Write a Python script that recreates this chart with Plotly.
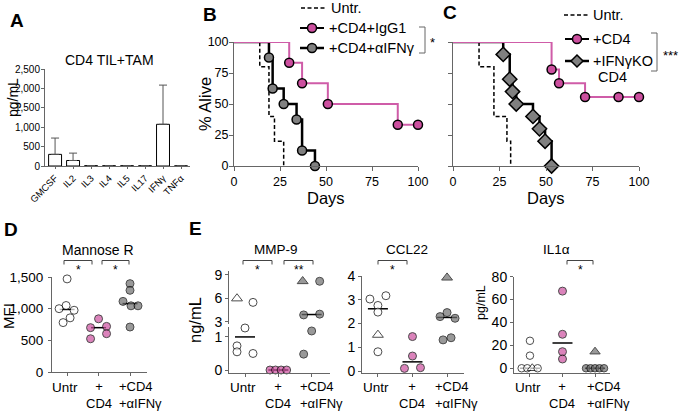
import plotly.graph_objects as go
import numpy as np

W, H = 680, 412
FONT = "Liberation Sans, Arial, Helvetica, sans-serif"
PINK = "#cc4f9f"
PINK_LINE = "#cf5ca8"
GRAY = "#808080"
DGRAY = "#6e6e6e"
AX = "#666666"

# ---------------- data ----------------
# Panel A: cytokines, CD4 TIL + TAM (pg/mL)
a_cats = ["GMCSF", "IL2", "IL3", "IL4", "IL5", "IL17", "IFNγ", "TNFα"]
a_mean = [300, 142, 8, 6, 6, 6, 1075, 3]
a_err = [420, 190, 0, 0, 0, 0, 1010, 0]

# Panel B: survival (days, % alive)
b_untr_days = [0, 14, 19, 22, 27]
b_untr_pct = [100, 80, 40, 20, 0]
b_igg_days = [0, 30, 37, 51, 89, 100]
b_igg_pct = [100, 83.3, 66.7, 50, 33.3, 33.3]
b_aifn_days = [0, 19, 21, 27, 34, 37, 44]
b_aifn_pct = [100, 87.5, 62.5, 50, 37.5, 12.5, 0]

# Panel C: survival
c_untr_days = [0, 14, 22, 29, 31]
c_untr_pct = [100, 80, 40, 20, 0]
c_cd4_days = [0, 53, 57, 71, 89, 100]
c_cd4_pct = [100, 77.8, 66.7, 55.6, 55.6, 55.6]
c_ko_days = [0, 27, 30.5, 32, 34, 43, 46.5, 49.5, 53]
c_ko_pct = [100, 90, 70, 60, 50, 40, 30, 20, 0]

# Panel D: Mannose R MFI
d_untr = [1470, 1050, 1000, 975, 855, 780]
d_cd4 = [840, 700, 720, 605, 525]
d_aifn = [1395, 1290, 1115, 1045, 1045, 710]

# Panel E: MMP-9 (ng/mL)
mmp_untr = [6.0, 5.5, 1.27, 0.73, 0.55, 0.5]
mmp_cd4 = [0, 0, 0, 0]
mmp_aifn = [8.2, 8.2, 3.9, 4.0, 1.18, 0.48]
# CCL22 (ng/mL)
ccl_untr = [3.03, 3.17, 2.76, 2.48, 1.52, 0.81]
ccl_cd4 = [1.45, 0.63, 0.11, 0.14]
ccl_aifn = [3.93, 2.29, 2.46, 2.22, 1.31, 1.40]
# IL1a (pg/mL)
il1_untr = [24, 11, 0, 0, 0, 0]
il1_cd4 = [67.4, 29.7, 14.5, 8.1]
il1_aifn = [14.5, 0, 0, 0, 0, 0]

# which mice are shown as triangles
mmp_untr_tri = [0]
mmp_aifn_tri = [0]
ccl_untr_tri = [4]
ccl_aifn_tri = [0]
il1_untr_tri = [4]
il1_aifn_tri = [0]

# ---------------- layout helpers ----------------
def px(x):
    return x / W

def py(y):
    return 1 - y / H

def xdom(a, b):
    return [a / W, b / W]

def ydom(top, bot):
    return [1 - bot / H, 1 - top / H]

# beeswarm-like horizontal jitter in pixels (style, not data)
JIT = {
    "d_untr": [0, -1, -8, 7, 3, -4],
    "d_cd4": [0, -8, 8, 8, -8],
    "d_aifn": [0, 0, -7, 1, 8, 0],
    "mmp_untr": [-8, 8, 0, -8, -8, 8],
    "mmp_cd4": [-8.3, -2.8, 2.8, 8.3],
    "mmp_aifn": [-9, 8, -8, 8, 0, -8],
    "ccl_untr": [-8, 8, 0, 0, 0, 0],
    "ccl_cd4": [0, 0, -8, 8],
    "ccl_aifn": [0, -7, 0, 8, -4, 4],
    "il1_untr": [0, 0, -8.3, -2.7, 2.3, 7.7],
    "il1_cd4": [0, 0, 0, 0],
    "il1_aifn": [0, -9, -4.5, 0, 4.5, 9],
}

GEO = {
    "D": dict(x0=52, x1=147, r=(-0.48, 2.54)),
    "MMP": dict(x0=229, x1=330, r=(-0.48, 2.55)),
    "CCL": dict(x0=362, x1=464, r=(-0.46, 2.49)),
    "IL1": dict(x0=514, x1=610, r=(-0.49, 2.46)),
}

def spacing(g):
    return (g["x1"] - g["x0"]) / (g["r"][1] - g["r"][0])

fig = go.Figure()

# ---------------- Panel A ----------------
fig.add_trace(go.Bar(
    x=a_cats, y=a_mean, width=0.72,
    marker=dict(color="white", line=dict(color="black", width=1)),
    error_y=dict(type="data", symmetric=False, array=a_err,
                 arrayminus=[0] * len(a_err), color="#555", thickness=1, width=4),
    xaxis="x", yaxis="y", showlegend=False, hoverinfo="skip"))

# ---------------- Panels B, C ----------------
def surv_line(days, pct, xa, ya, color, width, dash=None):
    fig.add_trace(go.Scatter(
        x=days, y=pct, mode="lines",
        line=dict(shape="hv", color=color, width=width, dash=dash),
        xaxis=xa, yaxis=ya, cliponaxis=False, showlegend=False, hoverinfo="skip"))

def surv_marks(days, pct, xa, ya, fill, symbol="circle", size=9):
    fig.add_trace(go.Scatter(
        x=days[1:], y=pct[1:], mode="markers",
        marker=dict(symbol=symbol, size=size, color=fill, line=dict(color="black", width=1.5)),
        xaxis=xa, yaxis=ya, cliponaxis=False, showlegend=False, hoverinfo="skip"))

DASH = "4px,2.5px"
surv_line(b_untr_days, b_untr_pct, "x2", "y2", "black", 1.5, DASH)
surv_line(b_aifn_days, b_aifn_pct, "x2", "y2", "black", 2.5)
surv_line(b_igg_days, b_igg_pct, "x2", "y2", PINK_LINE, 2)
surv_marks(b_aifn_days, b_aifn_pct, "x2", "y2", GRAY)
surv_marks(b_igg_days, b_igg_pct, "x2", "y2", PINK)

surv_line(c_untr_days, c_untr_pct, "x3", "y3", "black", 1.5, DASH)
surv_line(c_ko_days, c_ko_pct, "x3", "y3", "black", 2.5)
surv_line(c_cd4_days, c_cd4_pct, "x3", "y3", PINK_LINE, 2)
surv_marks(c_ko_days, c_ko_pct, "x3", "y3", GRAY, symbol="diamond", size=11)
surv_marks(c_cd4_days, c_cd4_pct, "x3", "y3", PINK)

# ---------------- Panels D, E (dot plots) ----------------
def median_line(vals, cat, g, xa, ya, half_px):
    sp = spacing(g)
    m = float(np.median(vals))
    fig.add_trace(go.Scatter(
        x=[cat - half_px / sp, cat + half_px / sp], y=[m, m], mode="lines",
        line=dict(color="black", width=1.5), xaxis=xa, yaxis=ya,
        cliponaxis=False, showlegend=False, hoverinfo="skip"))
    return m

def dots(vals, key, cat, g, fill, tri, xa, ya, keep=None, size=8):
    sp = spacing(g)
    offs = JIT[key]
    idx = [i for i in range(len(vals)) if keep is None or keep(vals[i])]
    if not idx:
        return
    xs = [cat + offs[i] / sp for i in idx]
    ys = [vals[i] for i in idx]
    syms = ["triangle-up" if i in tri else "circle" for i in idx]
    sizes = [size + 1.5 if i in tri else size for i in idx]
    fig.add_trace(go.Scatter(
        x=xs, y=ys, mode="markers",
        marker=dict(symbol=syms, size=sizes, color=fill, line=dict(color="black", width=1)),
        xaxis=xa, yaxis=ya, cliponaxis=False, showlegend=False, hoverinfo="skip"))

# D
gD = GEO["D"]
for cat, vals in enumerate([d_untr, d_cd4, d_aifn]):
    median_line(vals, cat, gD, "x4", "y4", 7.5)
dots(d_untr, "d_untr", 0, gD, "white", [], "x4", "y4")
dots(d_cd4, "d_cd4", 1, gD, PINK, [], "x4", "y4")
dots(d_aifn, "d_aifn", 2, gD, DGRAY, [], "x4", "y4")

# MMP-9 (broken axis: lower y5, upper y9)
gM = GEO["MMP"]
BREAK = 2.0
for cat, vals in enumerate([mmp_untr, mmp_cd4, mmp_aifn]):
    m = float(np.median(vals))
    median_line(vals, cat, gM, "x5", "y9" if m > BREAK else "y5", 10)
for vals, key, cat, fill, tri in [
        (mmp_untr, "mmp_untr", 0, "white", mmp_untr_tri),
        (mmp_cd4, "mmp_cd4", 1, PINK, []),
        (mmp_aifn, "mmp_aifn", 2, DGRAY, mmp_aifn_tri)]:
    dots(vals, key, cat, gM, fill, tri, "x5", "y5", keep=lambda v: v <= BREAK)
    dots(vals, key, cat, gM, fill, tri, "x5", "y9", keep=lambda v: v > BREAK)

# CCL22
gC = GEO["CCL"]
for cat, vals in enumerate([ccl_untr, ccl_cd4, ccl_aifn]):
    median_line(vals, cat, gC, "x6", "y6", 10)
dots(ccl_untr, "ccl_untr", 0, gC, "white", ccl_untr_tri, "x6", "y6")
dots(ccl_cd4, "ccl_cd4", 1, gC, PINK, [], "x6", "y6")
dots(ccl_aifn, "ccl_aifn", 2, gC, DGRAY, ccl_aifn_tri, "x6", "y6")

# IL1a
gI = GEO["IL1"]
for cat, vals in enumerate([il1_untr, il1_cd4, il1_aifn]):
    median_line(vals, cat, gI, "x7", "y7", 10)
dots(il1_untr, "il1_untr", 0, gI, "white", il1_untr_tri, "x7", "y7", size=7.5)
dots(il1_cd4, "il1_cd4", 1, gI, PINK, [], "x7", "y7", size=8)
dots(il1_aifn, "il1_aifn", 2, gI, DGRAY, il1_aifn_tri, "x7", "y7", size=7.5)

# ---------------- axes ----------------
def axis(**kw):
    base = dict(showline=True, linecolor=AX, linewidth=1, ticks="outside",
                tickcolor=AX, ticklen=3, showgrid=False, zeroline=False, automargin=False,
                tickfont=dict(size=14, color="black", family=FONT), fixedrange=True)
    base.update(kw)
    return base

def cat_x(g, anchor):
    return axis(domain=xdom(g["x0"], g["x1"]), anchor=anchor, range=list(g["r"]),
                tickvals=[0, 1, 2], showticklabels=False)

F125 = dict(size=12.5, color="black", family=FONT)
layout = dict(
    width=W, height=H, margin=dict(l=0, r=0, t=0, b=0, pad=0, autoexpand=False),
    autosize=False,
    paper_bgcolor="white", plot_bgcolor="rgba(0,0,0,0)",
    font=dict(family=FONT, color="black"), showlegend=False,
    xaxis=axis(domain=xdom(45, 190), anchor="y", type="category", range=[-0.56, 7.5],
               tickangle=-45, ticklen=2, tickfont=dict(size=9.5, color="black", family=FONT)),
    yaxis=axis(domain=ydom(69, 166), anchor="x", range=[0, 2500],
               tickvals=[0, 500, 1000, 1500, 2000, 2500], tickformat=",", ticklabelstandoff=-1,
               tickfont=dict(size=10, color="black", family=FONT)),
    xaxis2=axis(domain=xdom(234, 418), anchor="y2", range=[0, 100], ticklen=4,
                tickvals=[0, 25, 50, 75, 100], tickfont=F125),
    yaxis2=axis(domain=ydom(42, 166), anchor="x2", range=[0, 100], ticklen=4,
                ticklabelstandoff=-2, tickvals=[0, 25, 50, 75, 100], tickfont=F125),
    xaxis3=axis(domain=xdom(453, 639), anchor="y3", range=[0, 100], ticklen=4,
                tickvals=[0, 25, 50, 75, 100], tickfont=F125),
    yaxis3=axis(domain=ydom(42, 166), anchor="x3", range=[0, 100], ticklen=4,
                tickvals=[0, 25, 50, 75, 100], showticklabels=False),
    xaxis4=cat_x(gD, "y4"),
    yaxis4=axis(domain=ydom(277, 372), anchor="x4", range=[0, 1500], ticklabelstandoff=2,
                tickvals=[0, 500, 1000, 1500], tickformat=",",
                tickfont=dict(size=13.5, color="black", family=FONT)),
    xaxis5=cat_x(gM, "y5"),
    yaxis5=axis(domain=ydom(327, 373), anchor="x5", range=[-0.09, 1.3], tickvals=[0, 1]),
    yaxis9=axis(domain=ydom(271, 324), anchor="x5", range=[2.74, 9.51], tickvals=[3, 6, 9]),
    xaxis6=cat_x(gC, "y6"),
    yaxis6=axis(domain=ydom(276, 373), anchor="x6", range=[-0.084, 4], tickvals=[0, 1, 2, 3, 4]),
    xaxis7=cat_x(gI, "y7"),
    yaxis7=axis(domain=ydom(276.7, 373.3), anchor="x7", range=[-4.4, 80],
                tickvals=[0, 20, 40, 60, 80]),
)
fig.update_layout(**layout)

# ---------------- annotations & shapes ----------------
anns = []
shapes = []

def ann(text, x, y, size=14, xanchor="center", bold=False, angle=0, xref="paper",
        xshift=0, align="center"):
    t = "<b>%s</b>" % text if bold else text
    anns.append(dict(text=t, x=(px(x) if xref == "paper" else x), y=py(y), xref=xref, yref="paper",
                     xanchor=xanchor, yanchor="middle", showarrow=False, textangle=angle,
                     xshift=xshift, align=align, borderpad=0,
                     font=dict(size=size, family=FONT, color="black")))

def seg(x0, y0, x1, y1, color=AX, width=1, dash=None):
    shapes.append(dict(type="line", xref="paper", yref="paper", x0=px(x0), y0=py(y0),
                       x1=px(x1), y1=py(y1), line=dict(color=color, width=width, dash=dash)))

def circ(cx, cy, d, fill):
    shapes.append(dict(type="circle", xref="paper", yref="paper", x0=px(cx - d / 2), x1=px(cx + d / 2),
                       y0=py(cy + d / 2), y1=py(cy - d / 2), fillcolor=fill,
                       line=dict(color="black", width=1.5)))

def diamond(cx, cy, r, fill):
    path = "M %f %f L %f %f L %f %f L %f %f Z" % (
        px(cx - r), py(cy), px(cx), py(cy - r), px(cx + r), py(cy), px(cx), py(cy + r))
    shapes.append(dict(type="path", xref="paper", yref="paper", path=path, fillcolor=fill,
                       line=dict(color="black", width=1.5)))

# panel letters
for L, x, y in [("A", 17, 21), ("B", 210, 15), ("C", 450, 13), ("D", 11, 229), ("E", 196, 228)]:
    ann(L, x, y, size=19, bold=True)

# Panel A texts
ann("CD4 TIL+TAM", 109, 60, size=14)
ann("pg/mL", 13, 98, size=14, angle=-90)

# Panel B/C axis titles
ann("% Alive", 205, 104, size=16.5, angle=-90)
ann("Days", 326, 198, size=16.5)
ann("Days", 546, 198, size=16.5)

# Legend B
seg(301, 8, 325, 8, color="black", width=1.5, dash="4px,2.5px")
ann("Untr.", 330, 8, size=14.5, xanchor="left")
seg(300, 28, 324, 28, color="black", width=2)
circ(312, 28, 9, PINK)
ann("+CD4+IgG1", 328, 28, size=14.5, xanchor="left")
seg(300, 48, 324, 48, color="black", width=2.5)
circ(312, 48, 9, GRAY)
ann("+CD4+αIFNγ", 328, 48, size=14.5, xanchor="left")
# bracket B
seg(419, 27, 425, 27)
seg(425, 27, 425, 53)
seg(419, 53, 425, 53)
ann("*", 432, 43, size=13)

# Legend C
seg(564, 15, 588, 15, color="black", width=1.5, dash="4px,2.5px")
ann("Untr.", 592, 15, size=14.5, xanchor="left")
seg(565, 39, 589, 39, color="black", width=2)
circ(577, 39, 9, PINK)
ann("+CD4", 592, 39, size=14.5, xanchor="left")
seg(565, 61, 589, 61, color="black", width=2.5)
diamond(577, 61, 6, GRAY)
ann("+IFNγKO", 592, 61, size=14.5, xanchor="left")
ann("CD4", 612, 77, size=14.5)
# bracket C
seg(651, 33, 657, 33)
seg(657, 33, 657, 71)
seg(651, 71, 657, 71)
ann("***", 670, 55, size=13)

# Panel D/E titles and axis titles
ann("Mannose R", 98, 250, size=14)
ann("MFI", 8, 316, size=15, angle=-90)
ann("MMP-9", 276, 250, size=13.5)
ann("CCL22", 407, 250, size=13.5)
ann("IL1α", 556, 250, size=13.5)
ann("ng/mL", 195, 320, size=16.5, angle=-90)
ann("pg/mL", 481, 303, size=12.5, angle=-90)

# significance brackets (pixel positions)
for x0, x1, lab in [(64, 92, "*"), (102, 129, "*"), (243, 272, "*"), (284, 313, "**"),
                    (378, 407, "*"), (567, 593, "*")]:
    seg(x0, 264.5, x0, 260.5, color="#444")
    seg(x0, 260.5, x1, 260.5, color="#444")
    seg(x1, 260.5, x1, 264.5, color="#444")
    ann(lab, (x0 + x1) / 2, 270, size=12)

# category labels under D/E
for xa, sh in [("x4", -12), ("x5", -13), ("x6", -13), ("x7", -9)]:
    ann("Untr", -0.06, 387.5, size=13.5, xref=xa)
    ann("+<br>CD4", 1, 395, size=13, xref=xa)
    ann("+CD4<br>+αIFNγ", 2, 395, size=13, xref=xa, xanchor="left", xshift=sh, align="left")

fig.update_layout(annotations=anns, shapes=shapes)
# the page body has a default 8px margin; remove it so the figure sits at the window origin
fig.write_html("out.html", config={"displayModeBar": False},
               post_script="document.body.style.margin='0px';")
